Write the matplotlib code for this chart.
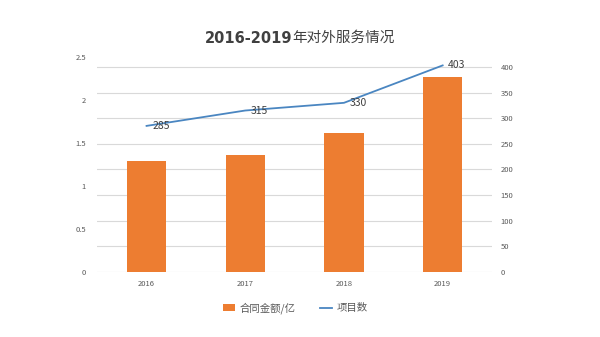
import numpy as np
import matplotlib.pyplot as plt

plt.rcParams['font.family'] = ['Noto Sans CJK SC', 'DejaVu Sans']

years = ['2016', '2017', '2018', '2019']
amount = [1.29, 1.36, 1.62, 2.27]      # 合同金额/亿
projects = [285, 315, 330, 403]        # 项目数

orange = '#ED7D31'
blue = '#4A86C1'
grey = '#595959'

fig = plt.figure(figsize=(6, 3.37), dpi=100)
ax = fig.add_axes([0.162, 0.193, 0.658, 0.638])
ax2 = ax.twinx()

x = np.arange(len(years))
ax.bar(x, amount, width=0.4, color=orange, label='合同金额/亿', zorder=2)
ax.set_xlim(-0.5, 3.5)
ax.set_ylim(0, 2.5)
ax.set_yticks(np.arange(0, 2.51, 0.5))
ax.set_yticklabels(['0', '0.5', '1', '1.5', '2', '2.5'])
ax.set_xticks(x)
ax.set_xticklabels(years)

ax2.plot(x, projects, color=blue, lw=1.3, label='项目数', zorder=3)
ax2.set_ylim(0, 419.5)
ax2.set_yticks(np.arange(0, 401, 50))
for xi, v in zip(x, projects):
    ax2.annotate(str(v), (xi, v), xytext=(4, 0), textcoords='offset points',
                 ha='left', va='center', fontsize=7.5, color='#404040')

# gridlines follow the right-hand axis
for v in np.arange(0, 401, 50):
    ax.axhline(v / 419.5 * 2.5, color='#D9D9D9', lw=0.8, zorder=0)

for a in (ax, ax2):
    for s in a.spines.values():
        s.set_visible(False)
    a.tick_params(length=0, labelsize=5.5, colors=grey)
ax.tick_params(axis='y', pad=8)
ax.tick_params(axis='x', pad=6)
ax2.tick_params(axis='y', pad=6)

# title: bold digits followed by the Chinese text
t1 = fig.text(0.5, 0.887, '2016-2019', fontsize=10.5, weight='bold',
              color='#404040', ha='right', va='center', family='DejaVu Sans')
t2 = fig.text(0.5, 0.887, '年对外服务情况', fontsize=10.5,
              color='#404040', ha='left', va='center')
fig.canvas.draw()
r = fig.canvas.get_renderer()
w1 = t1.get_window_extent(r).width / fig.bbox.width
w2 = t2.get_window_extent(r).width / fig.bbox.width
start = 0.5 - (w1 + w2) / 2
t1.set_x(start + w1)
t2.set_x(start + w1)

h1, l1 = ax.get_legend_handles_labels()
h2, l2 = ax2.get_legend_handles_labels()
fig.legend(h1 + h2, l1 + l2, loc='center', bbox_to_anchor=(0.492, 0.087),
           ncol=2, frameon=False, fontsize=7.5, labelcolor=grey,
           handlelength=1.2, handleheight=0.6, handletextpad=0.4,
           columnspacing=2.3)

fig.savefig('out.png', dpi=100)
